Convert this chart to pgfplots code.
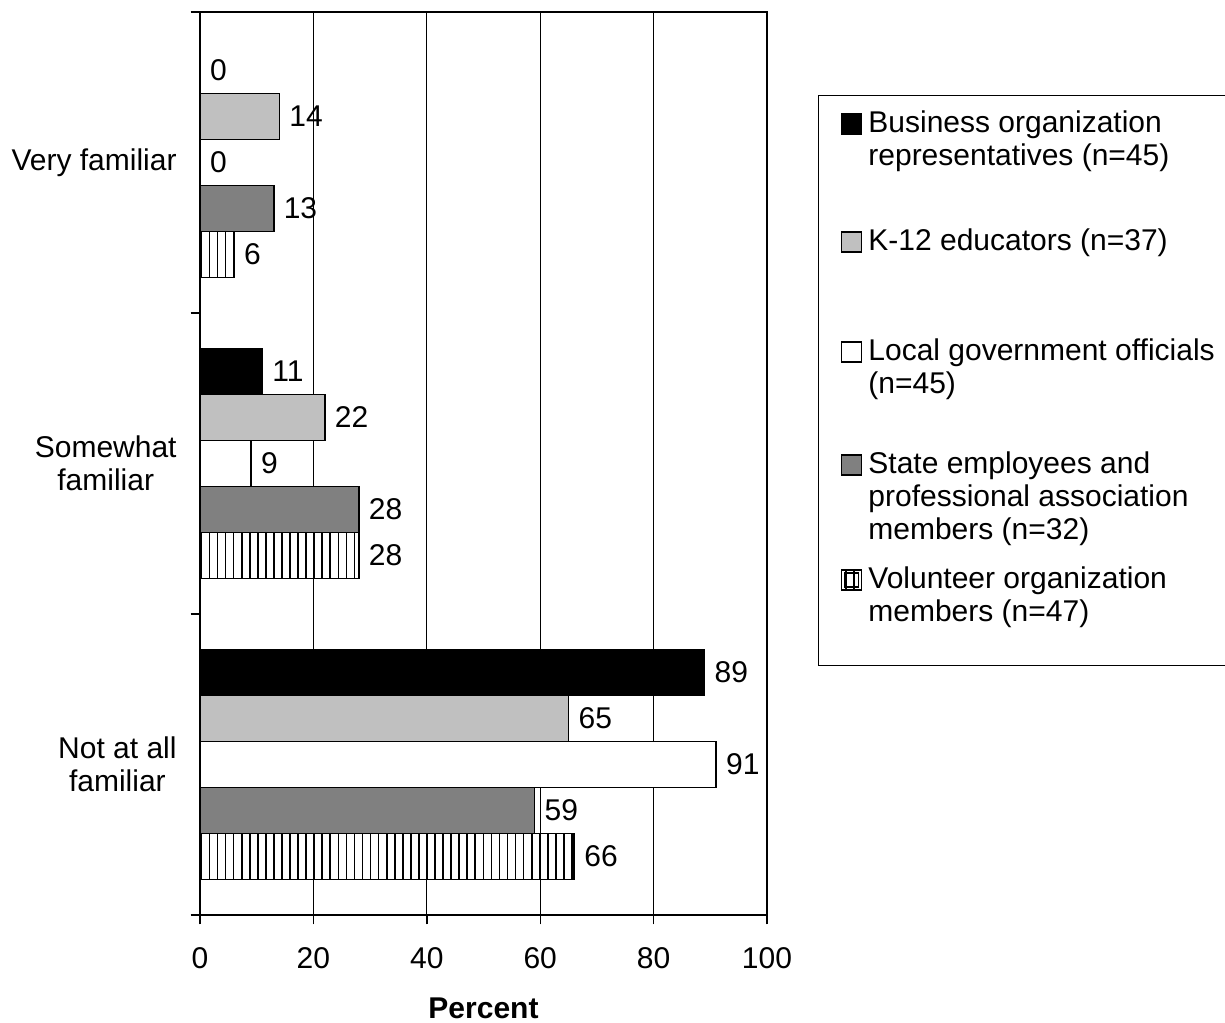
\documentclass[border=0pt]{standalone}
\usepackage{fontspec}
\setmainfont{Liberation Sans}
\usepackage{pgfplots}
\pgfplotsset{compat=1.18}
\usetikzlibrary{patterns.meta}

\definecolor{educ}{HTML}{C0C0C0}
\definecolor{state}{HTML}{808080}

\newcommand\chartfont{\fontsize{10.8pt}{11.9pt}\selectfont}
% legend text: first line on the baseline, fixed depth below it
\newcommand\lent[2]{\parbox[t]{140pt}{\raggedright\strut #2}\rule[-#1]{0pt}{#1}}

\pgfplotstableread{
y   business educators local state volunteer
0   0        14        0     13    6
1   11       22        9     28    28
2   89       65        91    59    66
}\familiarity

\tikzset{
  volpat/.style={fill=white, postaction={pattern={Lines[angle=90,distance=2.9pt,line width=0.6pt]}, pattern color=black}},
}
\pgfplotsset{
  sqkey/.style={legend image code/.code={\draw[##1] (0pt,-0.4pt) rectangle (7.2pt,6.8pt);}},
  smallsqkey/.style={legend image code/.code={\path (0pt,-0.4pt) rectangle (7.2pt,6.8pt);
    \draw[##1] (1.1pt,0.7pt) rectangle (6.1pt,5.7pt);}},
}

\begin{document}
\begin{tikzpicture}[font=\chartfont]
\begin{axis}[
  at={(72pt,38.52pt)}, anchor=south west,
  scale only axis, width=204.12pt, height=325.08pt,
  xbar, bar width=0.153,
  xmin=0, xmax=100, ymin=-0.5, ymax=2.5,
  y dir=reverse,
  xtick={0,20,40,60,80,100},
  ytick={0,1,2},
  yticklabels={Very familiar, {Somewhat\\familiar}, {Not at all\\familiar}},
  minor ytick={-0.5,0.5,1.5,2.5},
  major y tick style={draw=none},
  xtick pos=bottom, ytick pos=left,
  tick align=outside,
  major tick length=3.4pt, minor tick length=3.4pt,
  tick style={black, line width=0.5pt},
  xmajorgrids,
  major grid style={black, line width=0.4pt},
  axis line style={black, line width=0.8pt},
  /pgf/number format/assume math mode=true,
  xticklabel style={yshift=-4.6pt},
  yticklabel style={align=center, xshift=-1.5pt},
  xlabel={\textbf{Percent}},
  xlabel style={at={(axis description cs:0.5,0)}, anchor=base, yshift=-37.4pt},
  every axis plot/.append style={draw=black, line width=0.6pt},
  nodes near coords,
  nodes near coords style={black, font=\chartfont},
  sqkey,
  legend style={
    at={(axis description cs:1.0899,0.9081)}, anchor=north west,
    draw=black, line width=0.5pt, fill=white,
    inner xsep=7.9pt, inner ysep=5pt,
    row sep=0pt, column sep=2.2pt,
    nodes={inner sep=0pt, text depth=},
    cells={anchor=base west},
    font=\chartfont,
  },
]
\addplot[fill=black, bar shift=-0.306] table[x=business, y=y] {\familiarity};
\addlegendentry{\lent{34.15pt}{Business organization\\representatives (n=45)}}
\addplot[fill=educ, bar shift=-0.153] table[x=educators, y=y] {\familiarity};
\addlegendentry{\lent{31.27pt}{K-12 educators (n=37)}}
\addplot[fill=white, bar shift=0] table[x=local, y=y] {\familiarity};
\addlegendentry{\lent{32.35pt}{Local government officials\\(n=45)}}
\addplot[fill=state, bar shift=0.153] table[x=state, y=y] {\familiarity};
\addlegendentry{\lent{33.07pt}{State employees and\\professional association\\members (n=32)}}
\addplot[volpat, bar shift=0.306, smallsqkey] table[x=volunteer, y=y] {\familiarity};
\addlegendentry{\lent{22.7pt}{Volunteer organization\\members (n=47)}}
\end{axis}
\pgfresetboundingbox
\path[use as bounding box] (0,0) rectangle (441pt,367.92pt);
\end{tikzpicture}
\end{document}
